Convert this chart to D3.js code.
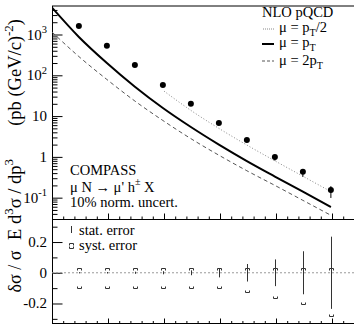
<!DOCTYPE html>
<html>
<head>
<meta charset="utf-8">
<script src="https://cdn.jsdelivr.net/npm/d3@7"></script>
<style>
body { margin: 0; background: #fff; }
svg text { font-family: "Liberation Serif", "Times New Roman", serif; font-size: 14.5px; fill: #000; }
</style>
</head>
<body>
<div id="chart"></div>
<script>
// COMPASS hadron cross section vs pT, with NLO pQCD curves
const pT = [1.24, 1.49, 1.74, 1.99, 2.24, 2.49, 2.74, 2.99, 3.24, 3.49];
const sigma = [1620, 530, 180, 58, 20, 6.8, 2.6, 0.99, 0.43, 0.155];
const statErr = [0.004, 0.005, 0.007, 0.01, 0.016, 0.03, 0.057, 0.087, 0.14, 0.235];
const systUp = [0.029, 0.029, 0.029, 0.029, 0.029, 0.029, 0.029, 0.029, 0.029, 0.029];
const systDown = [-0.10, -0.10, -0.10, -0.10, -0.10, -0.10, -0.124, -0.163, -0.205, -0.28];

// mu = pT/2 only computed where the scale is above 1 GeV
const pTHalf = [2.0, 2.24, 2.49, 2.74, 2.99, 3.24, 3.49];
const nloHalf = [41, 13.8, 5.0, 1.95, 0.80, 0.335, 0.141];
const pTcurve = [1.0, 1.24, 1.49, 1.74, 1.99, 2.24, 2.49, 2.74, 2.99, 3.24, 3.49];
const nloOne = [4570, 871, 200, 52.5, 15.8, 5.4, 2.0, 0.79, 0.33, 0.14, 0.059];
const nloTwo = [1150, 288, 79, 23.4, 7.8, 2.8, 1.10, 0.457, 0.20, 0.086, 0.037];

const topTicks = [0.1, 1, 10, 100, 1000];
const topTickLabels = [["10", "-1"], ["1", null], ["10", null], ["10", "2"], ["10", "3"]];
const botTicks = [-0.2, 0, 0.2];
const botTickLabels = ["-0.2", "0", "0.2"];

const W = 354, H = 324;
const padL = 52, padR = 360, padT = 6, padM = 219, padB = 323;

const svg = d3.select("#chart").append("svg")
    .attr("width", W).attr("height", H);

const x = d3.scaleLinear().domain([1.0, 3.75]).range([padL, padR]);
const yTop = d3.scaleLog().domain([0.03, 5000]).range([padM, padT]);
const yBot = d3.scaleLinear().domain([-0.327, 0.35]).range([padB, padM]);

// write text with super/subscripts: parts = [[text, shift]]
function richText(g, px, py, parts, anchor, rotate, size) {
    const fs = size || 14.5;
    const t = g.append("text")
        .attr("text-anchor", anchor || "start")
        .attr("transform", `translate(${px},${py})` + (rotate ? " rotate(-90)" : ""))
        .style("font-size", fs + "px");
    let cur = 0;
    parts.forEach(([s, shift]) => {
        const target = shift === 1 ? -fs * 0.42 : shift === -1 ? fs * 0.28 : 0;
        t.append("tspan").attr("dy", target - cur)
            .style("font-size", shift ? (fs * 0.7) + "px" : null)
            .text(s);
        cur = target;
    });
    return t;
}

svg.append("clipPath").attr("id", "clipTop")
    .append("rect").attr("x", padL).attr("y", padT).attr("width", padR - padL).attr("height", padM - padT);

// frame lines
svg.append("line").attr("x1", padL).attr("x2", padR).attr("y1", padT).attr("y2", padT)
    .attr("stroke", "#000");
svg.append("line").attr("x1", padL + 0.5).attr("x2", padL + 0.5).attr("y1", padT).attr("y2", padB)
    .attr("stroke", "#000");
svg.append("line").attr("x1", padL).attr("x2", padR).attr("y1", padM + 0.5).attr("y2", padM + 0.5)
    .attr("stroke", "#000");
svg.append("line").attr("x1", padL).attr("x2", padR).attr("y1", padB + 0.5).attr("y2", padB + 0.5)
    .attr("stroke", "#000");

// y ticks top (log)
const minorLog = [];
for (let e = -2; e <= 3; e++) for (let m = 2; m <= 9; m++) {
    const v = m * Math.pow(10, e);
    if (v > 0.03 && v < 5000) minorLog.push(v);
}
const yAxisTop = svg.append("g").attr("transform", `translate(${padL + 0.5},0)`);
yAxisTop.append("g").call(d3.axisRight(yTop).tickValues(topTicks).tickSize(10).tickFormat(""));
yAxisTop.append("g").call(d3.axisRight(yTop).tickValues(minorLog).tickSize(5).tickFormat(""));
yAxisTop.selectAll(".domain").remove();

topTicks.forEach((v, i) => {
    const [base, sup] = topTickLabels[i];
    const parts = [[base, 0]];
    if (sup) parts.push([sup, 1]);
    richText(svg, 47, yTop(v) + 5, parts, "end", false, 15);
});

// y ticks bottom
const yAxisBot = svg.append("g").attr("transform", `translate(${padL + 0.5},0)`);
yAxisBot.append("g").call(d3.axisRight(yBot).tickValues(botTicks).tickSize(10).tickFormat(""));
yAxisBot.append("g").call(d3.axisRight(yBot).tickValues([-0.3, -0.1, 0.1, 0.3]).tickSize(5).tickFormat(""));
yAxisBot.selectAll(".domain").remove();
botTicks.forEach((v, i) => {
    svg.append("text").attr("x", 47).attr("y", yBot(v) + 5).attr("text-anchor", "end")
        .style("font-size", "15px").text(botTickLabels[i]);
});

// x ticks
const xMajor = [1.5, 2.0, 2.5, 3.0, 3.5];
const xMinor = d3.range(11, 38).map(d => d / 10).filter(v => xMajor.indexOf(v) < 0);
[[padM, 6, 3], [padB, 5, 2.5]].forEach(([yy, maj, mnr]) => {
    const g = svg.append("g").attr("transform", `translate(0,${yy + 0.5})`);
    g.append("g").call(d3.axisTop(x).tickValues(xMajor).tickSize(maj).tickFormat(""));
    g.append("g").call(d3.axisTop(x).tickValues(xMinor).tickSize(mnr).tickFormat(""));
    g.selectAll(".domain").remove();
});

// curves
const line = d3.line()
    .x(d => x(d[0])).y(d => yTop(d[1]))
    .curve(d3.curveMonotoneX);
const curves = svg.append("g").attr("clip-path", "url(#clipTop)");
curves.append("path").datum(pTHalf.map((p, i) => [p, nloHalf[i]]))
    .attr("d", line).attr("fill", "none").attr("stroke", "#888").attr("stroke-dasharray", "1,2");
curves.append("path").datum(pTcurve.map((p, i) => [p, nloOne[i]]))
    .attr("d", line).attr("fill", "none").attr("stroke", "#000").attr("stroke-width", 2);
curves.append("path").datum(pTcurve.map((p, i) => [p, nloTwo[i]]))
    .attr("d", line).attr("fill", "none").attr("stroke", "#555").attr("stroke-dasharray", "4,3");

// data points with total error
const pts = svg.append("g");
pT.forEach((p, i) => {
    const up = Math.hypot(statErr[i], systUp[i]);
    const dn = Math.hypot(statErr[i], systDown[i]);
    pts.append("line")
        .attr("x1", x(p)).attr("x2", x(p))
        .attr("y1", yTop(sigma[i] * (1 + up))).attr("y2", yTop(sigma[i] * (1 - dn)))
        .attr("stroke", "#000");
    pts.append("circle").attr("cx", x(p)).attr("cy", yTop(sigma[i])).attr("r", 3).attr("fill", "#000");
});

// ratio panel
svg.append("line").attr("x1", padL).attr("x2", padR).attr("y1", yBot(0)).attr("y2", yBot(0))
    .attr("stroke", "#999").attr("stroke-dasharray", "2,2");

function bracket(g, cx, cy, dir) {
    g.append("path")
        .attr("d", `M${cx - 2},${cy + 2 * dir}V${cy}H${cx + 2}V${cy + 2 * dir}`)
        .attr("fill", "none").attr("stroke", "#333");
}
const rat = svg.append("g");
pT.forEach((p, i) => {
    const cx = Math.round(x(p)) + 0.5;
    rat.append("line").attr("x1", cx).attr("x2", cx)
        .attr("y1", yBot(statErr[i])).attr("y2", yBot(-statErr[i]))
        .attr("stroke", "#333");
    bracket(rat, cx, Math.round(yBot(systUp[i])) + 0.5, 1);
    bracket(rat, cx, Math.round(yBot(systDown[i])) + 0.5, -1);
});

// legend bottom
svg.append("line").attr("x1", 71.5).attr("x2", 71.5).attr("y1", 226).attr("y2", 233).attr("stroke", "#333");
svg.append("text").attr("x", 79).attr("y", 235).text("stat. error");
bracket(svg, 71.5, 243.5, 1);
bracket(svg, 71.5, 248.5, -1);
svg.append("text").attr("x", 79).attr("y", 250).text("syst. error");

// legend top
svg.append("text").attr("x", 262).attr("y", 17).text("NLO pQCD");
svg.append("line").attr("x1", 263).attr("x2", 274).attr("y1", 29).attr("y2", 29)
    .attr("stroke", "#888").attr("stroke-dasharray", "1,1");
richText(svg, 279, 32, [["μ = p", 0], ["T", -1], ["/2", 0]]);
svg.append("line").attr("x1", 262).attr("x2", 274).attr("y1", 44).attr("y2", 44)
    .attr("stroke", "#000").attr("stroke-width", 2);
richText(svg, 279, 47, [["μ = p", 0], ["T", -1]]);
svg.append("line").attr("x1", 262).attr("x2", 274).attr("y1", 61).attr("y2", 61)
    .attr("stroke", "#555").attr("stroke-dasharray", "3,2");
richText(svg, 279, 65, [["μ = 2p", 0], ["T", -1]]);

// annotation
svg.append("text").attr("x", 70).attr("y", 175).text("COMPASS");
richText(svg, 70, 191.5, [["μ N → μ' h", 0], ["±", 1], [" X", 0]]);
svg.append("text").attr("x", 70).attr("y", 207).text("10% norm. uncert.");

// axis titles
const yTitle = richText(svg, 21, 19,
    [["E d", 0], ["3", 1], ["σ / dp", 0], ["3", 1], [" (pb (GeV/c)", 0], ["-2", 1], [")", 0]],
    "end", true, 18.5);
// widen the gap before the units so the title spans like the original
const gapSpan = yTitle.selectAll("tspan").filter((d, i) => i === 4);
const titleLen = yTitle.node().getComputedTextLength();
gapSpan.attr("dx", Math.max(0, 221 - titleLen));
svg.append("text").attr("text-anchor", "middle").style("font-size", "18px")
    .attr("transform", "translate(21,271.5) rotate(-90)").text("δσ / σ");
</script>
</body>
</html>
